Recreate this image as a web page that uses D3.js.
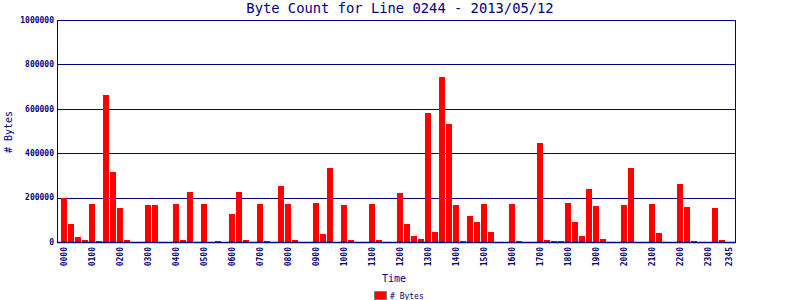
<!DOCTYPE html>
<html>
<head>
<meta charset="utf-8">
<script src="https://cdn.jsdelivr.net/npm/d3@7"></script>
<style>
  body { margin: 0; background: #fff; }
  svg { display: block; }
  text { font-family: "DejaVu Sans Mono", monospace; fill: #000080; }
</style>
</head>
<body>
<svg id="chart" width="800" height="300"></svg>
<script>
// 15-minute slots for the day
var slots = [
  '0000','0015','0030','0045','0100','0115','0130','0145','0200','0215','0230','0245',
  '0300','0315','0330','0345','0400','0415','0430','0445','0500','0515','0530','0545',
  '0600','0615','0630','0645','0700','0715','0730','0745','0800','0815','0830','0845',
  '0900','0915','0930','0945','1000','1015','1030','1045','1100','1115','1130','1145',
  '1200','1215','1230','1245','1300','1315','1330','1345','1400','1415','1430','1445',
  '1500','1515','1530','1545','1600','1615','1630','1645','1700','1715','1730','1745',
  '1800','1815','1830','1845','1900','1915','1930','1945','2000','2015','2030','2045',
  '2100','2115','2130','2145','2200','2215','2230','2245','2300','2315','2330','2345'
]

var bytes = [
  197000, 81000, 22000, 9000, 171000, 4500, 663000, 316000, 153000, 9000, 0, 0,
  167000, 167000, 0, 0, 171000, 9000, 226000, 0, 171000, 0, 4500, 0,
  126000, 226000, 9000, 0, 171000, 4500, 0, 253000, 171000, 9000, 0, 0,
  176000, 36000, 334000, 0, 167000, 9000, 0, 0, 171000, 9000, 0, 0,
  219000, 83000, 29000, 15000, 581000, 47000, 744000, 531000, 165000, 6000, 119000, 88000,
  169000, 47000, 0, 0, 169000, 6000, 0, 0, 445000, 10000, 6000, 6000,
  176000, 90000, 27000, 239000, 162000, 13500, 0, 0, 167000, 334000, 0, 0,
  171000, 41000, 0, 0, 262000, 158000, 4500, 0, 0, 153000, 9000, 0
]

var xTickLabels = ['0000','0100','0200','0300','0400','0500','0600','0700','0800',
  '0900','1000','1100','1200','1300','1400','1500','1600','1700','1800','1900',
  '2000','2100','2200','2300','2345']
var yTicks = [0, 200000, 400000, 600000, 800000, 1000000]

var navy = '#000080'
var plotLeft = 57, plotRight = 735, plotTop = 20, plotBottom = 242

var svg = d3.select('#chart')

var x = d3
  .scaleBand()
  .domain(slots)
  .range([60.5, 732.5])
  .paddingInner(1 / 7)
  .paddingOuter(1 / 14)

var y = d3
  .scaleLinear()
  .domain([0, 1000000])
  .range([plotBottom, plotTop])

// grid lines
svg
  .append('g')
  .selectAll('line')
  .data(yTicks)
  .enter()
  .append('line')
  .attr('x1', plotLeft)
  .attr('x2', plotRight + 1)
  .attr('y1', function(d) { return Math.round(y(d)) + 0.5 })
  .attr('y2', function(d) { return Math.round(y(d)) + 0.5 })
  .style('stroke', navy)
  .style('stroke-width', 1)

// bars
svg
  .append('g')
  .selectAll('rect')
  .data(bytes)
  .enter()
  .append('rect')
  .attr('x', function(d, i) { return x(slots[i]) })
  .attr('width', x.bandwidth())
  .attr('y', function(d) { return Math.round(y(d)) })
  .attr('height', function(d) { return d > 0 ? plotBottom - Math.round(y(d)) + 0.5 : 0 })
  .attr('fill', '#ff0000')
  .attr('shape-rendering', 'crispEdges')

// frame: left, right, bottom
svg.append('line')
  .attr('x1', plotLeft + 0.5).attr('x2', plotLeft + 0.5)
  .attr('y1', plotTop).attr('y2', plotBottom + 1)
  .style('stroke', navy)
svg.append('line')
  .attr('x1', plotRight + 0.5).attr('x2', plotRight + 0.5)
  .attr('y1', plotTop).attr('y2', plotBottom + 1)
  .style('stroke', navy)
svg.append('line')
  .attr('x1', plotLeft).attr('x2', plotRight + 1)
  .attr('y1', plotBottom + 0.5).attr('y2', plotBottom + 0.5)
  .style('stroke', navy).style('stroke-width', 1.5)

// y tick labels
svg
  .append('g')
  .selectAll('text')
  .data(yTicks)
  .enter()
  .append('text')
  .attr('x', 54)
  .attr('y', function(d) { return y(d) })
  .attr('dy', '0.35em')
  .attr('text-anchor', 'end')
  .style('font-size', '8px')
  .style('font-weight', 'bold')
  .text(function(d) { return d })

// x tick labels (vertical)
svg
  .append('g')
  .selectAll('text')
  .data(xTickLabels)
  .enter()
  .append('text')
  .attr('transform', function(d) {
    return 'translate(' + (x(d) + x.bandwidth() / 2) + ',247) rotate(-90)'
  })
  .attr('dy', '0.35em')
  .attr('text-anchor', 'end')
  .style('font-size', '8px')
  .style('font-weight', 'bold')
  .text(function(d) { return d })

// title
svg.append('text')
  .attr('x', 400)
  .attr('y', 13)
  .attr('text-anchor', 'middle')
  .style('font-size', '13.8px')
  .text('Byte Count for Line 0244 - 2013/05/12')

// axis titles
svg.append('text')
  .attr('x', 394)
  .attr('y', 282)
  .attr('text-anchor', 'middle')
  .style('font-size', '10px')
  .text('Time')

svg.append('text')
  .attr('transform', 'translate(12,132) rotate(-90)')
  .attr('text-anchor', 'middle')
  .style('font-size', '10px')
  .text('# Bytes')

// legend
svg.append('rect')
  .attr('x', 374.5).attr('y', 291.5)
  .attr('width', 12).attr('height', 8)
  .attr('fill', '#ff0000')
  .style('stroke', '#808080')
svg.append('text')
  .attr('x', 390)
  .attr('y', 299)
  .style('font-size', '8px')
  .text('# Bytes')
</script>
</body>
</html>
